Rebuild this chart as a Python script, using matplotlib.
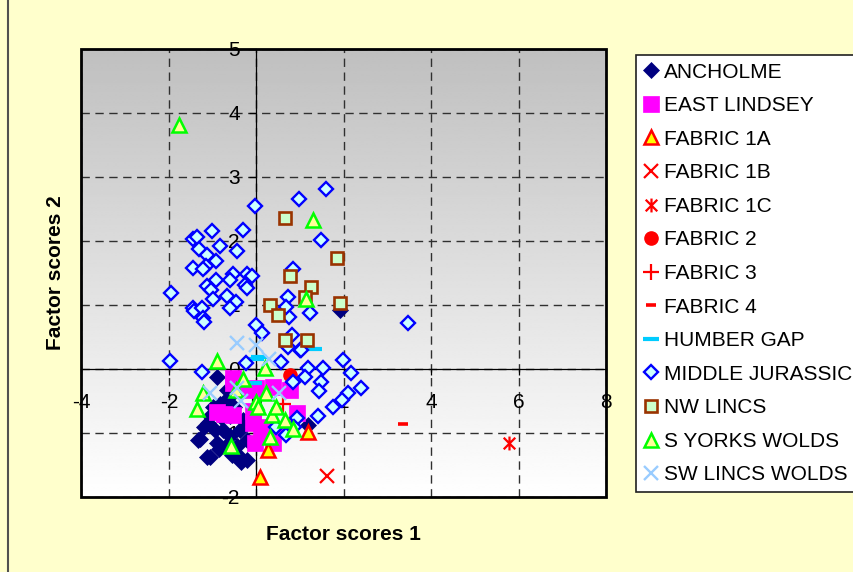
import matplotlib
matplotlib.use("Agg")
import matplotlib.pyplot as plt
import numpy as np
from matplotlib.path import Path
from matplotlib.lines import Line2D
from matplotlib.patches import Rectangle

plt.rcParams['font.family'] = ['Liberation Sans', 'DejaVu Sans']
plt.rcParams['axes.unicode_minus'] = False

# ---------------- data ----------------
anch_x = [-0.91, -0.68, -1.06, -1.29, -1.06, -0.37, -0.76, -0.37, -0.22, -0.91, -0.60, -0.83,
          -0.22, -1.10, -1.12, -1.34, -0.35, 1.19, 1.92, -0.50, -0.70, -0.45, -0.95, -0.60,
          -0.80, -1.00, -0.30, -0.55, -1.20, -0.65, -0.85]
anch_y = [-0.13, -0.33, -0.74, -1.10, -1.37, -1.37, -0.95, -0.95, -1.11, -1.16, -0.74, -0.54,
          -1.42, -0.85, -1.38, -1.11, -1.45, -0.87, 0.92, -0.60, -1.20, -1.20, -0.95, -1.05,
          -0.75, -0.60, -0.80, -1.35, -0.90, -0.45, -1.25]

east_x = [-0.91, -0.53, -0.53, -0.22, -0.07, -0.03, 0.92, 0.39, 0.77, 0.39, -0.07, 0.20, 0.10,
          -0.53, 0.00, -0.75, 0.55]
east_y = [-0.67, -0.72, -0.22, -0.33, -0.85, -1.16, -0.69, -0.28, -0.33, -1.16, -0.65, -0.90,
          -1.05, -0.14, -0.30, -0.70, -0.95]

f1a_x = [0.08, 0.27, 1.19]
f1a_y = [-1.68, -1.27, -0.98]

f1b_x = [1.62]
f1b_y = [-1.67]

f1c_x = [5.79]
f1c_y = [-1.15]

f2_x = [0.77]
f2_y = [-0.09]

f3_x = [0.62]
f3_y = [-0.54]

f4_x = [3.36]
f4_y = [-0.86]

humber_x = [1.32, 0.05, -0.05, 0.00]
humber_y = [0.31, 0.18, -0.22, 0.16]

mj_x = [-0.03, -1.01, -0.31, -1.44, -1.36, -0.82, -1.31, -0.44, -1.14, -0.92, -1.46, -1.15,
        -1.23, -0.54, -0.21, -0.60, -0.93, -1.12, -0.26, -0.22, -1.04, -1.96, -1.00, -0.66,
        -0.47, -0.60, -1.46, -1.42, -1.25, -1.23, -1.20, 0.00,
        0.97, 1.59, 1.49, 0.84, 0.73, 0.75, 1.23, 0.69, 3.46, 0.12, 0.81, 0.73, 1.01,
        0.56, 1.19, 1.53, 2.16, 1.11, 1.49, 2.39, 1.43, 2.10, 1.95, 1.76, 1.41, 1.99, 1.03,
        0.84, 0.92, 0.69, 0.46, 0.87, -1.25, -0.24, -1.97, -0.11]
mj_y = [2.55, 2.16, 2.17, 2.03, 2.07, 1.92, 1.87, 1.84, 1.78, 1.68, 1.58, 1.61,
        1.57, 1.48, 1.48, 1.39, 1.39, 1.30, 1.31, 1.26, 1.23, 1.19, 1.09, 1.14,
        1.04, 0.96, 0.95, 0.90, 0.95, 0.79, 0.74, 0.69,
        2.65, 2.82, 2.01, 1.56, 1.12, 0.82, 0.87, 0.97, 0.72, 0.56, 0.53, 0.35, 0.30,
        0.11, 0.01, 0.01, -0.06, -0.12, -0.20, -0.29, -0.34, -0.38, -0.48, -0.59, -0.73, 0.14, 0.30,
        -0.20, -0.77, -1.03, -0.90, -0.90, -0.05, 0.09, 0.13, 1.45]

nw_x = [0.65, 1.84, 0.77, 1.26, 1.11, 0.31, 0.50, 1.91, 0.66, 1.16]
nw_y = [2.36, 1.73, 1.45, 1.28, 1.12, 1.00, 0.85, 1.03, 0.45, 0.46]

sy_x = [-1.76, 1.29, 1.13, -0.89, -0.30, -1.21, -0.47, -1.36, -0.59, 0.00, 0.19, 0.23,
        0.35, 0.46, 0.65, 0.84, 0.31, 0.04]
sy_y = [3.81, 2.33, 1.10, 0.13, -0.16, -0.37, -0.33, -0.63, -1.21, -0.51, 0.01, -0.38,
        -0.72, -0.59, -0.80, -0.93, -1.06, -0.59]

sw_x = [-0.44, 0.00, 0.30, -1.06, -0.34, 0.52, -0.45]
sw_y = [0.41, 0.38, 0.15, -0.37, -0.50, -0.38, -0.30]

x_ticks = [-4, -2, 0, 2, 4, 6, 8]
y_ticks = [-2, -1, 0, 1, 2, 3, 4, 5]

# ---------------- figure ----------------
W, H = 854, 572
FS = 15
fig = plt.figure(figsize=(W / 100, H / 100), dpi=100)
fig.patch.set_facecolor('#ffffcc')

L, R, T, B = 81.5, 606, 49, 497
ax = fig.add_axes([L / W, 1 - B / H, (R - L) / W, (B - T) / H])

# gradient background: grey at top, white at bottom
grad = np.linspace(0.75, 1.0, 256).reshape(-1, 1)
ax.imshow(grad, cmap='gray', vmin=0, vmax=1, extent=[-4, 8, -2, 5], aspect='auto',
          zorder=0, origin='upper', interpolation='bilinear')
ax.set_xlim(-4, 8)
ax.set_ylim(-2, 5)

ax.set_xticks(x_ticks)
ax.set_yticks(y_ticks)
ax.set_xticklabels([str(v) for v in x_ticks])
ax.set_yticklabels([str(v) for v in y_ticks])
ax.grid(True, color='#303030', linestyle=(0, (6, 4)), linewidth=1.0, zorder=0.5)
ax.set_axisbelow(True)

for s in ['top', 'right']:
    ax.spines[s].set_visible(False)
ax.spines['left'].set_position(('data', 0))
ax.spines['bottom'].set_position(('data', 0))
ax.spines['left'].set_linewidth(0.9)
ax.spines['bottom'].set_linewidth(0.9)
ax.spines['left'].set_zorder(1)
ax.spines['bottom'].set_zorder(1)
ax.tick_params(axis='x', direction='out', length=4, pad=13, labelsize=FS, width=0.9)
ax.tick_params(axis='y', direction='out', length=5, pad=7, labelsize=FS, width=0.9)

ax.add_patch(Rectangle((0, 0), 1, 1, transform=ax.transAxes, fill=False,
                       edgecolor='black', linewidth=2, zorder=10, clip_on=False))

# asterisk marker
ast = Path([(-1, -1), (1, 1), (-1, 1), (1, -1), (0, -1.2), (0, 1.2)],
           [Path.MOVETO, Path.LINETO, Path.MOVETO, Path.LINETO, Path.MOVETO, Path.LINETO])

ax.plot(anch_x, anch_y, ls='none', marker='D', ms=7.8, mfc='#000080', mec='#000080',
        mew=0.5, label='ANCHOLME', zorder=3)
ax.plot(east_x, east_y, ls='none', marker='s', ms=11, mfc='#ff00ff', mec='#ff00ff',
        mew=0.5, label='EAST LINDSEY', zorder=3)
ax.plot(f1a_x, f1a_y, ls='none', marker='^', ms=10.5, mfc='#ffff00', mec='#ff0000',
        mew=1.8, label='FABRIC 1A', zorder=3)
ax.plot(f1b_x, f1b_y, ls='none', marker='x', ms=10, mec='#ff0000', mew=1.6,
        label='FABRIC 1B', zorder=3)
ax.plot(f1c_x, f1c_y, ls='none', marker=ast, ms=10, mec='#ff0000', mew=1.6,
        label='FABRIC 1C', zorder=3)
ax.plot(f2_x, f2_y, ls='none', marker='o', ms=9.5, mfc='#ff0000', mec='#ff0000',
        label='FABRIC 2', zorder=3)
ax.plot(f3_x, f3_y, ls='none', marker='+', ms=11, mec='#ff0000', mew=1.6,
        label='FABRIC 3', zorder=3)
ax.plot(f4_x, f4_y, ls='none', marker='_', ms=7, mec='#ff0000', mew=2.6,
        label='FABRIC 4', zorder=3)
ax.plot(humber_x, humber_y, ls='none', marker='_', ms=11, mec='#00ccff', mew=3,
        label='HUMBER GAP', zorder=3)
ax.plot(mj_x, mj_y, ls='none', marker='D', ms=6.9, mfc='#ccffff', mec='#0000ff',
        mew=1.7, label='MIDDLE JURASSIC', zorder=3)
ax.plot(nw_x, nw_y, ls='none', marker='s', ms=9.3, mfc='#ccffcc', mec='#993300',
        mew=1.9, label='NW LINCS', zorder=3)
ax.plot(sy_x, sy_y, ls='none', marker='^', ms=10.5, mfc='#ffff99', mec='#00ff00',
        mew=1.8, label='S YORKS WOLDS', zorder=3)
ax.plot(sw_x, sw_y, ls='none', marker='x', ms=10.5, mec='#99ccff', mew=1.7,
        label='SW LINCS WOLDS', zorder=3)

ax.set_xlabel('Factor scores 1', fontsize=FS, fontweight='bold')
ax.xaxis.set_label_coords(0.5, (B - 535) / (B - T))
ax.xaxis.label.set_va('center')
ax.set_ylabel('Factor scores 2', fontsize=FS, fontweight='bold')
ax.yaxis.set_label_coords((56 - L) / (R - L), 0.5)
ax.yaxis.label.set_va('center')

leg = fig.legend(loc='upper left', bbox_to_anchor=(636 / W, 1 - 55 / H),
                 borderaxespad=0, frameon=True, fancybox=False, shadow=False,
                 fontsize=FS, labelspacing=0.70, handlelength=0.7,
                 handletextpad=0.28, borderpad=0.36, markerscale=1.0)
fr = leg.get_frame()
fr.set_edgecolor('#202020')
fr.set_linewidth(1.2)
fr.set_facecolor('white')
fr.set_alpha(1)

fig.add_artist(Line2D([8 / W, 8 / W], [0, 1], transform=fig.transFigure,
                      color='#505050', lw=1.5))

fig.savefig('out.png', dpi=100, facecolor=fig.get_facecolor())
